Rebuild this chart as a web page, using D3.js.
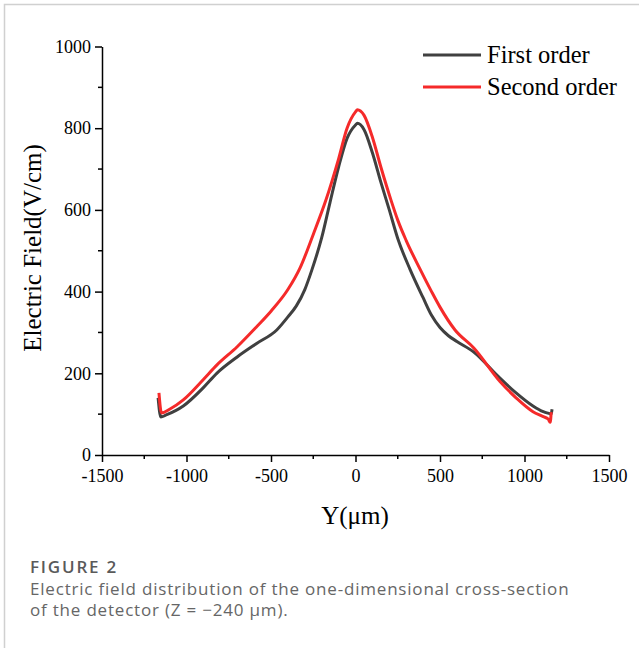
<!DOCTYPE html>
<html lang="en">
<head>
    <meta charset="UTF-8">
    <title>Electric field distribution</title>
    <script src="https://d3js.org/d3.v7.min.js"></script>
    <style>
        body { margin: 0; background: #fff; }
        .axis path, .axis line { stroke: #000; stroke-width: 1.5px; }
    </style>
</head>
<body>
<svg width="639" height="648"></svg>
<script>
    // tick values
    var xTicks = [-1500, -1000, -500, 0, 500, 1000, 1500];
    var xMinor = [-1250, -750, -250, 250, 750, 1250];
    var yTicks = [0, 200, 400, 600, 800, 1000];
    var yMinor = [100, 300, 500, 700, 900];

    // series: Y position (um) and field (V/cm)
    var firstX = [-1168, -1152, -1120, -1019, -900, -821, -700, -585, -466, -400, -350, -300, -259, -200, -151, -100, -50, 0, 11, 50, 100, 150, 200, 250, 322, 400, 450, 500, 550, 600, 700, 843, 950, 1050, 1111, 1150, 1158, 1163];
    var firstY = [140, 93, 98, 120, 165, 200, 240, 273, 306, 338, 365, 405, 452, 532, 618, 705, 775, 808, 812, 797, 740, 668, 600, 530, 455, 385, 342, 312, 292, 278, 252, 193, 152, 120, 106, 101, 100, 112];

    var secondX = [-1163, -1148, -1100, -1019, -900, -821, -700, -585, -500, -400, -328, -250, -175, -100, -50, 0, 11, 50, 100, 150, 210, 250, 300, 382, 450, 500, 589, 700, 855, 950, 1050, 1111, 1140, 1152, 1158];
    var secondY = [152, 103, 112, 135, 185, 220, 265, 314, 352, 405, 458, 540, 624, 725, 800, 840, 845, 832, 778, 705, 624, 575, 525, 455, 400, 362, 306, 262, 180, 140, 106, 94, 88, 80, 105];

    var seriesNames = ['First order', 'Second order'];
    var colors = ['#404040', '#f52a2a'];

    var serif = '"Liberation Serif", "Times New Roman", serif';
    var svg = d3.select('svg');

    // figure frame
    svg.append('path')
        .attr('d', 'M4.5,648V4.5H639')
        .attr('fill', 'none')
        .attr('stroke', '#d0d0d0')
        .attr('stroke-width', 1.5);

    var x = d3.scaleLinear().domain([-1500, 1500]).range([102, 609]);
    var y = d3.scaleLinear().domain([0, 1000]).range([455, 46.5]);

    var plain = function (d) { return String(d); };
    var xAxis = d3.axisBottom(x).tickValues(xTicks).tickFormat(plain).tickSize(7).tickPadding(7).tickSizeOuter(0);
    var yAxis = d3.axisLeft(y).tickValues(yTicks).tickFormat(plain).tickSize(7).tickPadding(4).tickSizeOuter(0);

    var gX = svg.append('g').attr('class', 'axis').attr('transform', 'translate(0,455)').call(xAxis);
    var gY = svg.append('g').attr('class', 'axis').attr('transform', 'translate(102,0)').call(yAxis);

    svg.selectAll('.axis text')
        .attr('fill', '#000')
        .style('font-family', serif)
        .style('font-size', '18px');

    gX.selectAll('.minor').data(xMinor).enter().append('line')
        .attr('x1', function (d) { return x(d); }).attr('x2', function (d) { return x(d); })
        .attr('y1', 0).attr('y2', 4);
    gY.selectAll('.minor').data(yMinor).enter().append('line')
        .attr('y1', function (d) { return y(d); }).attr('y2', function (d) { return y(d); })
        .attr('x1', 0).attr('x2', -4);

    // axis titles
    svg.append('text')
        .attr('x', 355).attr('y', 524)
        .attr('text-anchor', 'middle')
        .style('font-family', serif)
        .style('font-size', '25px')
        .text('Y(\u03bcm)');

    svg.append('text')
        .attr('transform', 'translate(41,248) rotate(-90)')
        .attr('text-anchor', 'middle')
        .style('font-family', serif)
        .style('font-size', '25px')
        .text('Electric Field(V/cm)');

    var line = d3.line()
        .x(function (d) { return x(d[0]); })
        .y(function (d) { return y(d[1]); })
        .curve(d3.curveMonotoneX);

    var series = [d3.zip(firstX, firstY), d3.zip(secondX, secondY)];

    svg.selectAll('.series').data(series).enter().append('path')
        .attr('class', 'series')
        .attr('d', line)
        .attr('fill', 'none')
        .attr('stroke', function (d, i) { return colors[i]; })
        .attr('stroke-width', 3)
        .attr('stroke-linejoin', 'round');

    // legend
    var legend = svg.selectAll('.legend').data(seriesNames).enter().append('g')
        .attr('transform', function (d, i) { return 'translate(423,' + (55 + i * 32) + ')'; });
    legend.append('line')
        .attr('x1', 0).attr('x2', 58)
        .attr('stroke', function (d, i) { return colors[i]; })
        .attr('stroke-width', 3);
    legend.append('text')
        .attr('x', 64).attr('y', 8)
        .style('font-family', serif)
        .style('font-size', '24.5px')
        .text(function (d) { return d; });

    // caption
    svg.append('text')
        .attr('x', 30).attr('y', 573)
        .style('font-family', '"Open Sans", sans-serif')
        .style('font-size', '17px')
        .style('font-weight', 600)
        .style('letter-spacing', '1.8px')
        .attr('fill', '#5a5a5a')
        .text('FIGURE 2');
    var caption = ['Electric field distribution of the one-dimensional cross-section',
        'of the detector (Z = \u2212240 \u03bcm).'];
    svg.selectAll('.cap').data(caption).enter().append('text')
        .attr('x', 30).attr('y', function (d, i) { return 595 + i * 21; })
        .style('font-family', '"Open Sans", sans-serif')
        .style('font-size', '17px')
        .style('letter-spacing', '0.8px')
        .attr('fill', '#666')
        .text(function (d) { return d; });
</script>
</body>
</html>
